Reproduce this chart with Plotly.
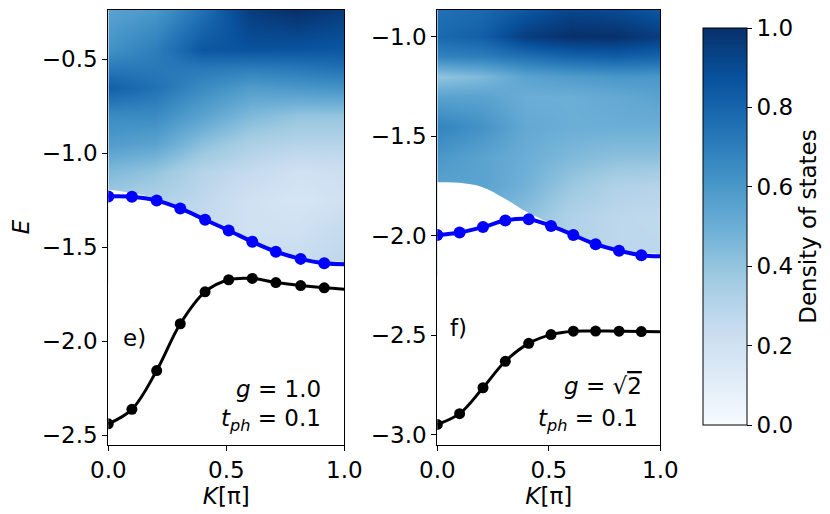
#
# plot.py
# - band dispersion over a density-of-states map, two couplings

import plotly.graph_objs as go
import plotly.express as px

#-- momentum points (units of pi) carrying markers
k_pts = [0.0, 0.10, 0.205, 0.305, 0.41, 0.51, 0.61, 0.71, 0.815, 0.915]

#-- panel e) g = 1.0
e_blue = [-1.230, -1.232, -1.252, -1.294, -1.354, -1.411, -1.471, -1.524, -1.562, -1.585]
e_black = [-2.439, -2.362, -2.156, -1.907, -1.737, -1.673, -1.666, -1.688, -1.704, -1.716]
e_blue_end = -1.590
e_black_end = -1.723

#-- panel f) g = sqrt(2)
f_blue = [-1.997, -1.984, -1.957, -1.924, -1.917, -1.951, -1.997, -2.043, -2.076, -2.098]
f_black = [-2.948, -2.894, -2.764, -2.631, -2.541, -2.497, -2.480, -2.479, -2.480, -2.482]
f_blue_end = -2.104
f_black_end = -2.483

#-- lower edge of the continuum
k_edge = [0.0, 0.1, 0.2, 0.3, 0.4, 0.5, 0.6, 0.7, 0.8, 0.9, 1.0]
e_edge = [-1.195, -1.212, -1.240, -1.288, -1.350, -1.408, -1.468, -1.521, -1.559, -1.583, -1.588]
f_edge = [-1.732, -1.734, -1.755, -1.812, -1.880, -1.935, -1.992, -2.040, -2.073, -2.096, -2.102]

#-- density of states (coarse grid, smoothed by plotly)
dos_k = [0.0, 0.2, 0.4, 0.6, 0.8, 1.0]
e_dos_E = [-0.24, -0.45, -0.55, -0.65, -0.80, -0.95, -1.10, -1.25, -1.40, -1.60]
e_dos = [
    [0.55, 0.60, 0.75, 0.95, 1.00, 0.95],
    [0.62, 0.70, 0.85, 0.87, 0.86, 0.85],
    [0.72, 0.72, 0.72, 0.70, 0.72, 0.75],
    [0.82, 0.75, 0.65, 0.58, 0.60, 0.62],
    [0.65, 0.65, 0.55, 0.45, 0.40, 0.40],
    [0.58, 0.55, 0.42, 0.33, 0.30, 0.30],
    [0.45, 0.40, 0.30, 0.25, 0.20, 0.22],
    [0.35, 0.32, 0.27, 0.20, 0.17, 0.20],
    [0.30, 0.30, 0.25, 0.20, 0.20, 0.25],
    [0.30, 0.30, 0.28, 0.25, 0.25, 0.28],
]
f_dos_E = [-0.87, -1.00, -1.10, -1.20, -1.30, -1.45, -1.60, -1.75, -1.90, -2.10]
f_dos = [
    [0.75, 0.78, 0.85, 0.92, 0.90, 0.85],
    [0.78, 0.82, 0.95, 1.00, 1.00, 0.95],
    [0.68, 0.70, 0.75, 0.80, 0.82, 0.80],
    [0.40, 0.45, 0.55, 0.58, 0.60, 0.60],
    [0.55, 0.55, 0.50, 0.50, 0.52, 0.55],
    [0.68, 0.62, 0.52, 0.50, 0.50, 0.50],
    [0.60, 0.55, 0.50, 0.45, 0.42, 0.42],
    [0.55, 0.55, 0.48, 0.38, 0.32, 0.30],
    [0.50, 0.50, 0.42, 0.32, 0.28, 0.27],
    [0.45, 0.45, 0.38, 0.30, 0.28, 0.28],
]

FONT = "DejaVu Sans"
FS = 23
# page body keeps an 8px margin, so the figure is drawn 8px smaller
OFF = 8
W, H = 830 - OFF, 514 - OFF

fig = go.Figure()


def panel(xa, ya, dos_E, dos, edge, blue, blue_end, black, black_end, ybottom):
    fig.add_trace(go.Heatmap(x=dos_k, y=dos_E, z=dos, zsmooth="best",
                             coloraxis="coloraxis", xaxis=xa, yaxis=ya))
    #-- blank out everything below the continuum edge
    fig.add_trace(go.Scatter(x=k_edge + [1.0, 0.0],
                             y=edge + [ybottom, ybottom],
                             fill="toself", fillcolor="white",
                             mode="lines", line=dict(width=0, shape="spline"),
                             hoverinfo="skip", showlegend=False,
                             xaxis=xa, yaxis=ya))
    for vals, end, col, lw, ms in [(blue, blue_end, "#0000ff", 4, 12),
                                   (black, black_end, "black", 3, 11)]:
        fig.add_trace(go.Scatter(x=k_pts + [1.0], y=vals + [end], mode="lines",
                                 line=dict(color=col, width=lw, shape="spline"),
                                 showlegend=False, xaxis=xa, yaxis=ya))
        fig.add_trace(go.Scatter(x=k_pts, y=vals, mode="markers",
                                 marker=dict(color=col, size=ms),
                                 showlegend=False, xaxis=xa, yaxis=ya))


panel("x", "y", e_dos_E, e_dos, e_edge, e_blue, e_blue_end,
      e_black, e_black_end, -3.0)
panel("x2", "y2", f_dos_E, f_dos, f_edge, f_blue, f_blue_end,
      f_black, f_black_end, -3.5)

ax = dict(showline=True, mirror=True, linecolor="black", linewidth=1,
          ticks="outside", ticklen=5, tickcolor="black", showgrid=False,
          zeroline=False, tickformat=".1f", automargin=False,
          tickfont=dict(family=FONT, size=FS, color="black"))


def px_x(a, b):
    return [(a - OFF) / W, (b - OFF) / W]


ydom = [1 - (444.5 - OFF) / H, 1 - (9.5 - OFF) / H]
ktitle = dict(text="<i>K</i>[π]", font=dict(family=FONT, size=FS, color="black"),
              standoff=5)

fig.update_layout(
    width=W, height=H,
    margin=dict(l=0, r=0, t=0, b=0),
    paper_bgcolor="white", plot_bgcolor="white",
    font=dict(family=FONT, size=FS, color="black"),
    xaxis=dict(ax, domain=px_x(108.3, 344.3), range=[0, 1], dtick=0.5,
               title=ktitle),
    yaxis=dict(ax, domain=ydom, range=[-2.549, -0.236], dtick=0.5,
               title=dict(text="<i>E</i>", standoff=10,
                          font=dict(family=FONT, size=FS, color="black"))),
    xaxis2=dict(ax, domain=px_x(437.3, 660.3), range=[0, 1], dtick=0.5,
                title=ktitle, anchor="y2"),
    yaxis2=dict(ax, domain=ydom, range=[-3.049, -0.864], dtick=0.5,
                anchor="x2"),
    coloraxis=dict(
        colorscale=px.colors.sequential.Blues, cmin=0, cmax=1,
        colorbar=dict(x=(703 - OFF) / W, xanchor="left", xpad=0,
                      y=1 - (226.5 - OFF) / H, yanchor="middle", ypad=0,
                      len=397 / H, lenmode="fraction", thickness=44,
                      outlinewidth=1, outlinecolor="black",
                      ticks="outside", ticklen=5, tickcolor="black",
                      tickvals=[0, 0.2, 0.4, 0.6, 0.8, 1.0], tickformat=".1f",
                      tickfont=dict(family=FONT, size=FS, color="black"),
                      title=dict(text="Density of states", side="right",
                                 font=dict(family=FONT, size=FS, color="black"))),
    ),
)

notes = [
    ("x", "y", 0.055, -1.985, "e)", "left"),
    ("x", "y", 0.91, -2.252, "<i>g</i> = 1.0", "right"),
    ("x", "y", 0.91, -2.42, "<i>t</i><sub><i>ph</i></sub> = 0.1", "right"),
    ("x2", "y2", 0.048, -2.465, "f)", "left"),
    ("x2", "y2", 0.927, -2.757,
     "<i>g</i> = √<span style='text-decoration:overline'>2</span>", "right"),
    ("x2", "y2", 0.907, -2.927, "<i>t</i><sub><i>ph</i></sub> = 0.1", "right"),
]
for xr, yr, xv, yv, txt, anc in notes:
    fig.add_annotation(x=xv, y=yv, xref=xr, yref=yr, text=txt, showarrow=False,
                       xanchor=anc, yanchor="middle",
                       font=dict(family=FONT, size=FS, color="black"))

fig.write_html("out.html")
